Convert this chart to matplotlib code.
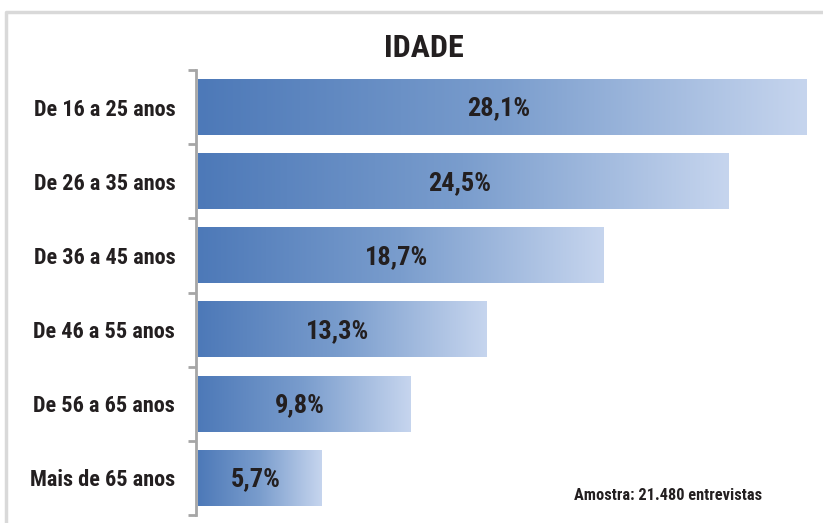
import numpy as np
import matplotlib.pyplot as plt
from matplotlib.colors import LinearSegmentedColormap
from matplotlib.lines import Line2D

categorias = ['De 16 a 25 anos', 'De 26 a 35 anos', 'De 36 a 45 anos',
              'De 46 a 55 anos', 'De 56 a 65 anos', 'Mais de 65 anos']
valores = [28.1, 24.5, 18.7, 13.3, 9.8, 5.7]
rotulos = ['28,1%', '24,5%', '18,7%', '13,3%', '9,8%', '5,7%']
titulo = 'IDADE'
nota = 'Amostra: 21.480 entrevistas'

plt.rcParams['font.family'] = ['Roboto Condensed', 'Barlow Condensed', 'DejaVu Sans']

fig = plt.figure(figsize=(8.23, 5.23), dpi=100)
ax = fig.add_axes([196 / 823, 1 - 515 / 523, (810 - 196) / 823, (515 - 70) / 523])

# moldura cinza clara (canto superior esquerdo)
fig.add_artist(Line2D([6 / 823, 6 / 823, 1.0], [0, 1 - 12 / 523, 1 - 12 / 523],
                      transform=fig.transFigure, color='#d9d9d9', lw=2.5))

y = np.arange(len(categorias))
barras = ax.barh(y, valores, height=0.75, color='none', left=0.1)

cmap = LinearSegmentedColormap.from_list('azul', ['#4d79b8', '#7a9dcd', '#c6d5ee'])
grad = np.linspace(0, 1, 256).reshape(1, -1)
for b in barras:
    x0, y0 = b.get_x(), b.get_y()
    w, h = b.get_width(), b.get_height()
    ax.imshow(grad, cmap=cmap, aspect='auto', extent=[x0, x0 + w, y0 + h, y0],
              zorder=2, interpolation='bicubic')

for yi, v, r in zip(y, valores, rotulos):
    ax.text(0.1 + v / 2 - 0.2, yi + 0.02, r, ha='center', va='center', fontsize=19,
            fontweight='bold', color='#231f20', zorder=3)

ax.set_xlim(0, (810 - 196) / 21.67)
ax.set_ylim(len(categorias) - 0.5, -0.5)

ax.set_yticks(y)
ax.set_yticklabels(categorias, fontsize=16, fontweight='bold', color='#231f20')
ax.set_yticks(np.arange(-0.5, len(categorias)), minor=True)
ax.tick_params(axis='y', which='major', length=0, pad=15)
ax.tick_params(axis='y', which='minor', length=6, width=2, color='#a6a6a6', direction='out')
ax.set_xticks([])

for s in ['top', 'right', 'bottom']:
    ax.spines[s].set_visible(False)
ax.spines['left'].set_color('#a6a6a6')
ax.spines['left'].set_linewidth(2)

fig.text(424 / 823, 1 - 48 / 523, titulo, ha='center', va='center',
         fontsize=23, fontweight='bold', color='#231f20')
fig.text(668 / 823, 1 - 495 / 523, nota, ha='center', va='center',
         fontsize=11.8, fontweight='bold', color='#231f20')

fig.savefig('out.png', dpi=100)
